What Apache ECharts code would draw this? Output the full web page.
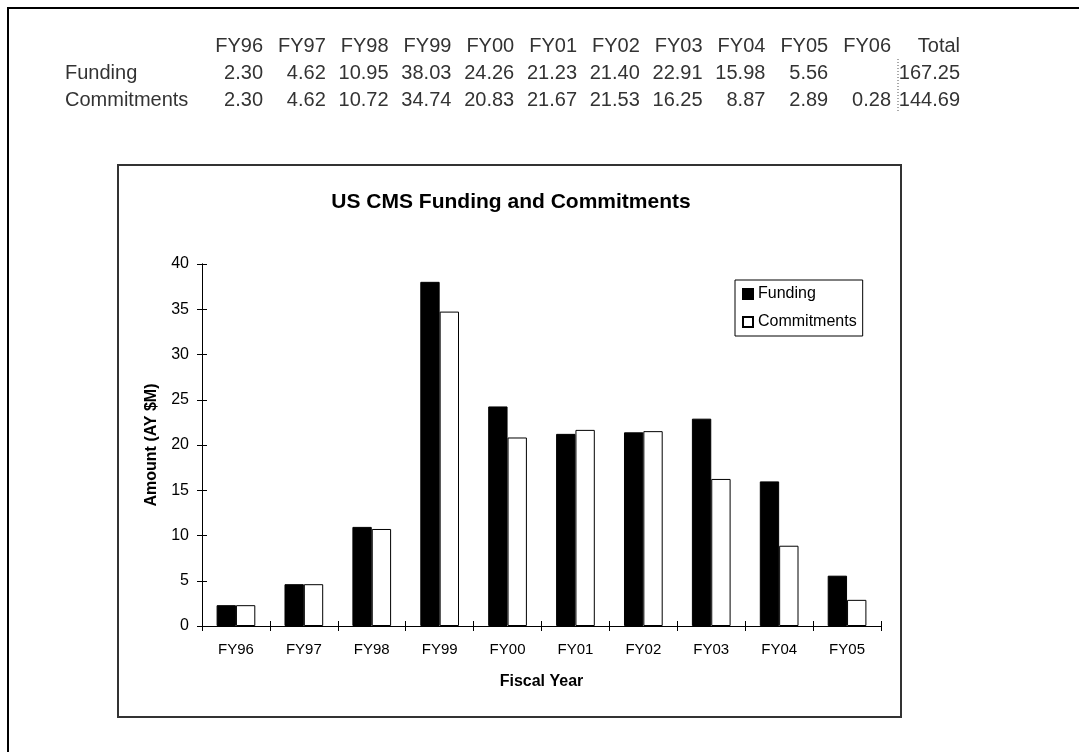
<!DOCTYPE html>
<html>
<head>
<meta charset="utf-8">
<script src="https://cdn.jsdelivr.net/npm/echarts@6/dist/echarts.min.js"></script>
<style>
html,body{margin:0;padding:0;background:#fff;}
#chart{width:1079px;height:752px;}
</style>
</head>
<body>
<div id="chart"></div>
<script>
// ---- data ----
const tableYears = ['FY96','FY97','FY98','FY99','FY00','FY01','FY02','FY03','FY04','FY05','FY06'];
const fundingTable = [2.30,4.62,10.95,38.03,24.26,21.23,21.40,22.91,15.98,5.56,null];
const commitTable  = [2.30,4.62,10.72,34.74,20.83,21.67,21.53,16.25,8.87,2.89,0.28];
const rowLabels = ['Funding','Commitments'];
const totalLabel = 'Total';
const totals = [167.25,144.69];
const categories = tableYears.slice(0,10);
const fundingValues = fundingTable.slice(0,10);
const commitValues = commitTable.slice(0,10);

const FONT = '"Liberation Sans", Arial, sans-serif';
const chart = echarts.init(document.getElementById('chart'));

// ---- table graphics ----
const colRight0 = 263, colStep = 62.8, totalRight = 960, labelLeft = 65;
const rowY = [46, 73, 100];
const tableFont = '20px ' + FONT;
const tColor = '#333';
const graphics = [];
tableYears.forEach((y,i)=>{
  graphics.push({type:'text', x: colRight0 + i*colStep, y: rowY[0], style:{text:y, font:tableFont, fill:tColor, align:'right', verticalAlign:'middle'}});
});
graphics.push({type:'text', x: totalRight, y: rowY[0], style:{text:totalLabel, font:tableFont, fill:tColor, align:'right', verticalAlign:'middle'}});
[fundingTable, commitTable].forEach((arr,r)=>{
  graphics.push({type:'text', x: labelLeft, y: rowY[r+1], style:{text:rowLabels[r], font:tableFont, fill:tColor, align:'left', verticalAlign:'middle'}});
  arr.forEach((v,i)=>{
    if (v === null) return;
    graphics.push({type:'text', x: colRight0 + i*colStep, y: rowY[r+1], style:{text:v.toFixed(2), font:tableFont, fill:tColor, align:'right', verticalAlign:'middle'}});
  });
  graphics.push({type:'text', x: totalRight, y: rowY[r+1], style:{text:totals[r].toFixed(2), font:tableFont, fill:tColor, align:'right', verticalAlign:'middle'}});
});
graphics.push({type:'line', shape:{x1:898,y1:rowY[1]-14,x2:898,y2:rowY[2]+12}, style:{stroke:'#555', lineWidth:1, lineDash:[1,2]}});
// page frame (top & left)
graphics.push({type:'line', shape:{x1:7,y1:8,x2:1079,y2:8}, style:{stroke:'#000', lineWidth:2}});
graphics.push({type:'line', shape:{x1:8,y1:7,x2:8,y2:752}, style:{stroke:'#000', lineWidth:2}});
// chart box
graphics.push({type:'rect', shape:{x:118,y:165,width:783,height:552}, style:{fill:null, stroke:'#333', lineWidth:2}, z:-1});
// chart title
graphics.push({type:'text', x:511, y:202, style:{text:'US CMS Funding and Commitments', font:'bold 21px '+FONT, fill:'#000', align:'center', verticalAlign:'middle'}});

const axisLineStyle = {color:'#000', width:1};
const option = {
  animation:false,
  backgroundColor:'#fff',
  graphic: graphics,
  grid:{left:202, right:198, top:264, bottom:126},
  legend:{
    orient:'vertical', left:735, top:280,
    padding:[5,6,5,7], itemGap:10,
    borderColor:'#000', borderWidth:1,
    icon:'rect', itemWidth:10, itemHeight:10,
    textStyle:{fontFamily:FONT, fontSize:16, color:'#000', lineHeight:18},
    data:['Funding','Commitments']
  },
  xAxis:[
    {type:'category', data:categories, position:'bottom', show:true,
     axisLine:{show:true, lineStyle:axisLineStyle},
     axisTick:{show:true, interval:0, length:5, lineStyle:axisLineStyle},
     axisLabel:{fontFamily:FONT, fontSize:15, color:'#000', margin:16},
     splitLine:{show:false},
     name:'Fiscal Year', nameLocation:'middle', nameGap:48,
     nameTextStyle:{fontFamily:FONT, fontSize:16, fontWeight:'bold', color:'#000'}},
    {type:'category', data:categories, position:'bottom', gridIndex:0, show:true, offset:0,
     axisLine:{show:true, lineStyle:axisLineStyle},
     axisTick:{show:true, interval:0, inside:true, length:5, lineStyle:axisLineStyle},
     splitLine:{show:false},
     axisLabel:{show:false}}
  ],
  yAxis:[
    {type:'value', min:0, max:40, interval:5, position:'left', show:true,
     axisLine:{show:true, lineStyle:axisLineStyle}, axisTick:{show:true, length:5, lineStyle:axisLineStyle},
     splitLine:{show:false},
     axisLabel:{fontFamily:FONT, fontSize:16, color:'#000', margin:13},
     name:'Amount (AY $M)', nameLocation:'middle', nameGap:42, nameRotate:90,
     nameTextStyle:{fontFamily:FONT, fontSize:16, fontWeight:'bold', color:'#000'}},
    {type:'value', min:0, max:40, interval:5, position:'left', show:true, offset:0,
     axisLine:{show:true, lineStyle:axisLineStyle}, axisTick:{show:true, inside:true, length:5, lineStyle:axisLineStyle},
     splitLine:{show:false}, axisLabel:{show:false}}
  ],
  series:[
    {name:'Funding', type:'bar', data:fundingValues, barGap:'0%', barCategoryGap:'43%',
     itemStyle:{color:'#000', borderColor:'#000', borderWidth:1}},
    {name:'Commitments', type:'bar', data:commitValues, barGap:'0%', barCategoryGap:'43%',
     itemStyle:{color:'#fff', borderColor:'#000', borderWidth:1}}
  ]
};
chart.setOption(option);
</script>
</body>
</html>
